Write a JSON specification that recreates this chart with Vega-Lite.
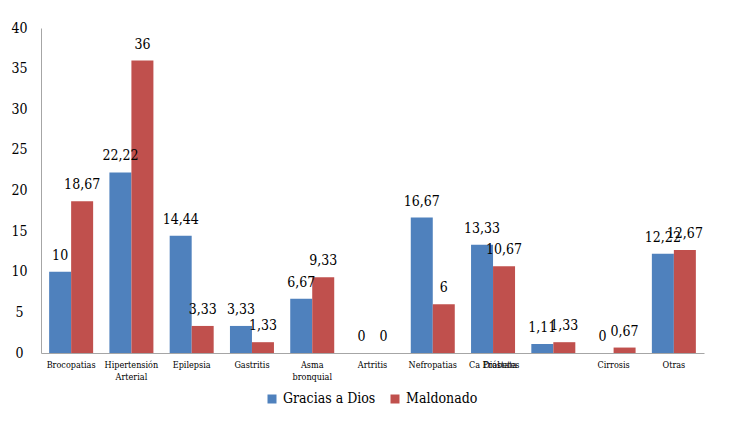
{
  "$schema": "https://vega.github.io/schema/vega-lite/v6.json",
  "width": 663,
  "height": 325,
  "autosize": {"type": "none"},
  "padding": {"left": 41, "top": 28, "right": 27, "bottom": 69},
  "config": {
    "view": {"stroke": null},
    "font": "DejaVu Serif Condensed, DejaVu Serif",
    "locale": {
      "number": {"decimal": ",", "thousands": ".", "grouping": [3], "currency": ["", " €"]}
    }
  },
  "data": {
    "values": [
      {"causa": "Brocopatias", "region": "Gracias a Dios", "pct": 10},
      {"causa": "Brocopatias", "region": "Maldonado", "pct": 18.67},
      {"causa": "Hipertensión Arterial", "region": "Gracias a Dios", "pct": 22.22},
      {"causa": "Hipertensión Arterial", "region": "Maldonado", "pct": 36},
      {"causa": "Epilepsia", "region": "Gracias a Dios", "pct": 14.44},
      {"causa": "Epilepsia", "region": "Maldonado", "pct": 3.33},
      {"causa": "Gastritis", "region": "Gracias a Dios", "pct": 3.33},
      {"causa": "Gastritis", "region": "Maldonado", "pct": 1.33},
      {"causa": "Asma bronquial", "region": "Gracias a Dios", "pct": 6.67},
      {"causa": "Asma bronquial", "region": "Maldonado", "pct": 9.33},
      {"causa": "Artritis", "region": "Gracias a Dios", "pct": 0},
      {"causa": "Artritis", "region": "Maldonado", "pct": 0},
      {"causa": "Nefropatias", "region": "Gracias a Dios", "pct": 16.67},
      {"causa": "Nefropatias", "region": "Maldonado", "pct": 6},
      {"causa": "Ca Próstata", "region": "Gracias a Dios", "pct": 13.33},
      {"causa": "Ca Próstata", "region": "Maldonado", "pct": 10.67},
      {"causa": "Diabetes", "region": "Gracias a Dios", "pct": 1.11},
      {"causa": "Diabetes", "region": "Maldonado", "pct": 1.33},
      {"causa": "Cirrosis", "region": "Gracias a Dios", "pct": 0},
      {"causa": "Cirrosis", "region": "Maldonado", "pct": 0.67},
      {"causa": "Otras", "region": "Gracias a Dios", "pct": 12.22},
      {"causa": "Otras", "region": "Maldonado", "pct": 12.67}
    ]
  },
  "encoding": {
    "x": {
      "field": "causa",
      "type": "nominal",
      "sort": ["Brocopatias", "Hipertensión Arterial", "Epilepsia", "Gastritis", "Asma bronquial", "Artritis", "Nefropatias", "Ca Próstata", "Diabetes", "Cirrosis", "Otras"],
      "scale": {"paddingInner": 0.27, "paddingOuter": 0.135},
      "axis": {
        "title": null,
        "ticks": false,
        "labelAngle": 0,
        "domainColor": "#A6A6A6",
        "labelFont": "DejaVu Serif Condensed, DejaVu Serif",
        "labelFontSize": 9,
        "labelColor": "#000000",
        "labelPadding": 7,
        "labelLineHeight": 12,
        "labelOffset": {"condition": {"test": "datum.value == 'Diabetes'", "value": -52}, "value": 0},
        "labelExpr": "datum.value == 'Hipertensión Arterial' ? ['Hipertensión', 'Arterial'] : datum.value == 'Asma bronquial' ? ['Asma', 'bronquial'] : datum.label"
      }
    },
    "xOffset": {
      "field": "region",
      "type": "nominal",
      "sort": ["Gracias a Dios", "Maldonado"],
      "scale": {"paddingInner": 0, "paddingOuter": 0}
    },
    "y": {
      "field": "pct",
      "type": "quantitative",
      "scale": {"domain": [0, 40], "nice": false},
      "axis": {
        "title": null,
        "grid": false,
        "ticks": false,
        "values": [0, 5, 10, 15, 20, 25, 30, 35, 40],
        "domainColor": "#A6A6A6",
        "labelFont": "DejaVu Serif Condensed, DejaVu Serif",
        "labelFontSize": 14,
        "labelColor": "#000000",
        "labelAlign": "center",
        "labelPadding": 22
      }
    }
  },
  "layer": [
    {
      "mark": {"type": "bar"},
      "encoding": {
        "color": {
          "field": "region",
          "type": "nominal",
          "scale": {"domain": ["Gracias a Dios", "Maldonado"], "range": ["#4F81BD", "#C0504D"]},
          "legend": {
            "title": null,
            "orient": "none",
            "legendX": 224,
            "legendY": 364,
            "direction": "horizontal",
            "symbolType": "square",
            "symbolSize": 81,
            "symbolStrokeWidth": 0,
            "labelFont": "DejaVu Serif Condensed, DejaVu Serif",
            "labelFontSize": 14,
            "labelColor": "#000000",
            "labelOffset": 4,
            "columnPadding": 12
          }
        }
      }
    },
    {
      "mark": {"type": "text", "dy": -12, "baseline": "alphabetic", "fontSize": 14, "color": "#000000", "font": "DejaVu Serif Condensed, DejaVu Serif"},
      "encoding": {
        "text": {"field": "pct", "type": "quantitative", "format": ".4~r"}
      }
    }
  ]
}
